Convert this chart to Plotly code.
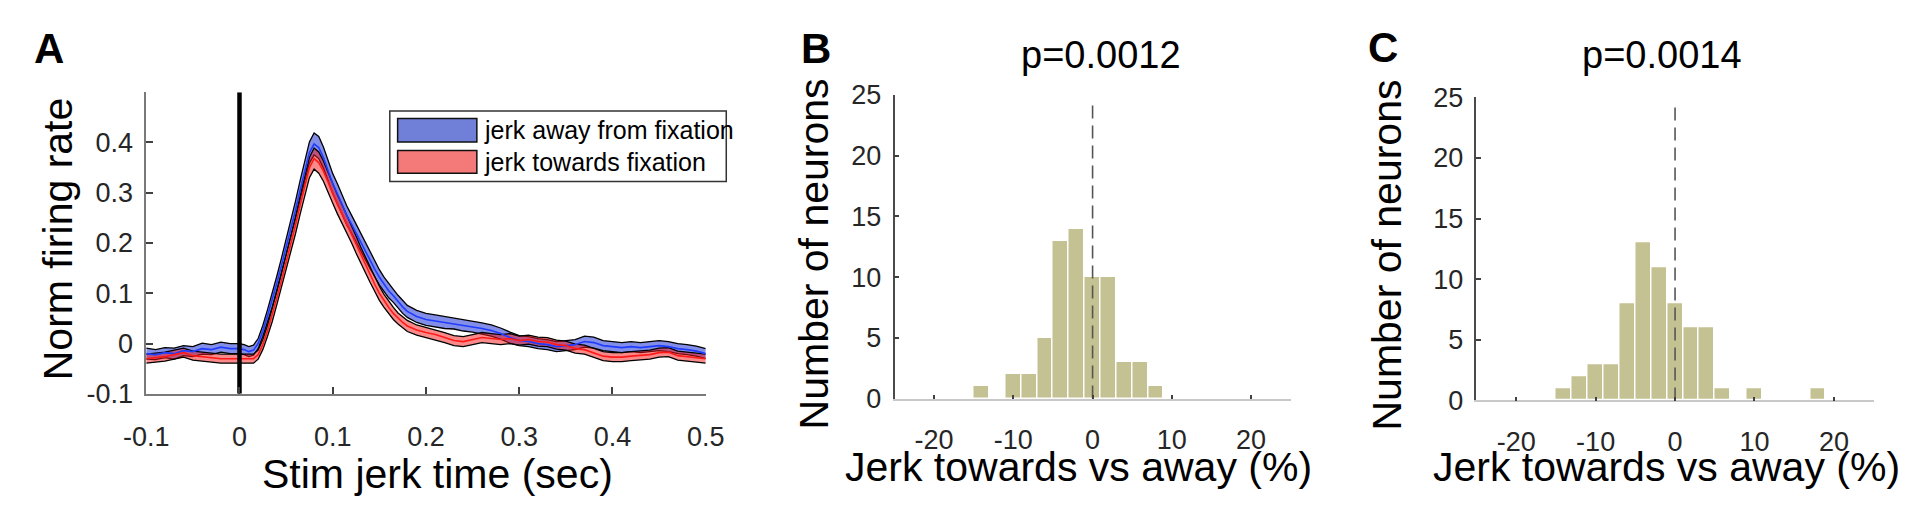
import plotly.graph_objects as go

# ---------------- data ----------------
time_s = [-0.10, -0.09, -0.08, -0.07, -0.06, -0.05, -0.04, -0.03, -0.02, -0.01, 0.00,
          0.005, 0.010, 0.015, 0.020, 0.025, 0.030, 0.035, 0.040, 0.045, 0.050, 0.055, 0.060,
          0.065, 0.070, 0.075, 0.080, 0.085, 0.090, 0.095, 0.100, 0.105, 0.110, 0.115, 0.120,
          0.125, 0.130, 0.135, 0.140, 0.145, 0.150, 0.155, 0.160, 0.165, 0.170, 0.175, 0.180,
          0.19, 0.20, 0.21, 0.22, 0.23, 0.24, 0.25, 0.26, 0.27, 0.28, 0.29, 0.30, 0.31, 0.32,
          0.33, 0.34, 0.35, 0.36, 0.37, 0.38, 0.39, 0.40, 0.41, 0.42, 0.43, 0.44, 0.45, 0.46,
          0.47, 0.48, 0.49, 0.50]

away_mean = [-0.020, -0.022, -0.018, -0.020, -0.014, -0.016, -0.010, -0.012, -0.007, -0.010, -0.010,
             -0.012, -0.016, -0.013, 0.000, 0.025, 0.055, 0.085, 0.120, 0.155, 0.190, 0.225, 0.265,
             0.305, 0.345, 0.380, 0.397, 0.390, 0.370, 0.345, 0.318, 0.298, 0.275, 0.255, 0.238,
             0.220, 0.200, 0.183, 0.165, 0.148, 0.132, 0.118, 0.105, 0.095, 0.083, 0.073, 0.064,
             0.054, 0.048, 0.045, 0.042, 0.040, 0.036, 0.034, 0.030, 0.026, 0.020, 0.012, 0.006,
             0.004, 0.000, -0.002, -0.006, -0.004, -0.002, 0.004, 0.002, -0.004, -0.006, -0.008,
             -0.006, -0.008, -0.006, -0.004, -0.006, -0.010, -0.012, -0.015, -0.020]

away_sem = [0.011, 0.010, 0.010, 0.011, 0.010, 0.010, 0.011, 0.010, 0.010, 0.010, 0.010,
            0.010, 0.010, 0.010, 0.010, 0.011, 0.012, 0.013, 0.014, 0.015, 0.016, 0.017, 0.018,
            0.019, 0.020, 0.021, 0.022, 0.022, 0.021, 0.021, 0.020, 0.020, 0.019, 0.019, 0.018,
            0.018, 0.017, 0.017, 0.016, 0.015, 0.015, 0.014, 0.014, 0.013, 0.013, 0.013, 0.012,
            0.012, 0.012, 0.012, 0.012, 0.011, 0.011, 0.011, 0.011, 0.011, 0.011, 0.011, 0.010,
            0.010, 0.010, 0.010, 0.010, 0.010, 0.010, 0.011, 0.011, 0.010, 0.010, 0.010, 0.010,
            0.010, 0.010, 0.010, 0.010, 0.010, 0.010, 0.010, 0.010]

towards_mean = [-0.030, -0.028, -0.026, -0.022, -0.018, -0.024, -0.026, -0.028, -0.030, -0.030, -0.030,
                -0.030, -0.031, -0.030, -0.022, -0.002, 0.025, 0.055, 0.090, 0.125, 0.160, 0.195, 0.235,
                0.275, 0.315, 0.350, 0.368, 0.360, 0.343, 0.320, 0.298, 0.277, 0.258, 0.238, 0.218,
                0.197, 0.176, 0.156, 0.137, 0.118, 0.100, 0.085, 0.072, 0.060, 0.050, 0.042, 0.035,
                0.027, 0.022, 0.018, 0.012, 0.006, 0.004, 0.008, 0.012, 0.010, 0.008, 0.010, 0.006,
                0.008, 0.004, 0.003, -0.002, -0.004, -0.010, -0.012, -0.018, -0.025, -0.027, -0.027,
                -0.025, -0.024, -0.022, -0.018, -0.017, -0.024, -0.026, -0.027, -0.030]

towards_sem = [0.009, 0.009, 0.009, 0.009, 0.009, 0.009, 0.009, 0.009, 0.009, 0.009, 0.009,
               0.009, 0.009, 0.009, 0.009, 0.010, 0.011, 0.012, 0.013, 0.014, 0.015, 0.016, 0.017,
               0.018, 0.019, 0.020, 0.021, 0.021, 0.020, 0.020, 0.019, 0.019, 0.018, 0.018, 0.017,
               0.017, 0.016, 0.016, 0.015, 0.014, 0.014, 0.013, 0.012, 0.012, 0.011, 0.011, 0.011,
               0.010, 0.010, 0.010, 0.010, 0.010, 0.010, 0.010, 0.010, 0.010, 0.010, 0.010, 0.009,
               0.009, 0.009, 0.009, 0.009, 0.009, 0.009, 0.009, 0.009, 0.009, 0.009, 0.009, 0.009,
               0.009, 0.009, 0.009, 0.009, 0.009, 0.009, 0.009, 0.009]

a_xticks = [-0.1, 0, 0.1, 0.2, 0.3, 0.4, 0.5]
a_xticklabels = ["-0.1", "0", "0.1", "0.2", "0.3", "0.4", "0.5"]
a_yticks = [-0.1, 0, 0.1, 0.2, 0.3, 0.4]
a_yticklabels = ["-0.1", "0", "0.1", "0.2", "0.3", "0.4"]

hist_xticks = [-20, -10, 0, 10, 20]
hist_xticklabels = ["-20", "-10", "0", "10", "20"]
hist_yticks = [0, 5, 10, 15, 20, 25]
hist_yticklabels = ["0", "5", "10", "15", "20", "25"]

b_bin_centers = [-14, -12, -10, -8, -6, -4, -2, 0, 2, 4, 6, 8]
b_counts = [1, 0, 2, 2, 5, 13, 14, 10, 10, 3, 3, 1]
c_bin_centers = [-14, -12, -10, -8, -6, -4, -2, 0, 2, 4, 6, 8, 10, 12, 14, 16, 18]
c_counts = [1, 2, 3, 3, 8, 13, 11, 8, 6, 6, 1, 0, 1, 0, 0, 0, 1]
bin_width = 2
b_pvalue = "p=0.0012"
c_pvalue = "p=0.0014"
legend_labels = ["jerk away from fixation", "jerk towards fixation"]

# ---------------- styling ----------------
W, H = 1920, 511
FONT = "Liberation Sans, Arial, Helvetica, sans-serif"
TICKC = "#262626"


def px(x):
    return x / W


def py(y):
    return 1 - y / H


fig = go.Figure()

# panel A bands
series = [
    (away_mean, away_sem, "rgba(30,50,215,0.55)", "#1f3cff"),
    (towards_mean, towards_sem, "rgba(245,20,20,0.5)", "#ff1a1a"),
]
for mean, sem, fillc, linec in series:
    upper = [m + s for m, s in zip(mean, sem)]
    lower = [m - s for m, s in zip(mean, sem)]
    fig.add_trace(go.Scatter(x=time_s, y=upper, mode="lines", line=dict(color="black", width=1.3),
                             xaxis="x", yaxis="y", showlegend=False, hoverinfo="skip"))
    fig.add_trace(go.Scatter(x=time_s, y=lower, mode="lines", line=dict(color="black", width=1.3),
                             fill="tonexty", fillcolor=fillc,
                             xaxis="x", yaxis="y", showlegend=False, hoverinfo="skip"))
for mean, sem, fillc, linec in series:
    fig.add_trace(go.Scatter(x=time_s, y=mean, mode="lines", line=dict(color=linec, width=1.6),
                             xaxis="x", yaxis="y", showlegend=False))

# stimulus onset line
fig.add_trace(go.Scatter(x=[0, 0], y=[-0.1, 0.5], mode="lines", line=dict(color="black", width=4.5),
                         xaxis="x", yaxis="y", showlegend=False, hoverinfo="skip"))

# histograms
BAR = "#c4c192"
fig.add_trace(go.Bar(x=b_bin_centers, y=b_counts, width=bin_width,
                     marker=dict(color=BAR, line=dict(color="white", width=1.5)),
                     xaxis="x2", yaxis="y2", showlegend=False))
fig.add_trace(go.Bar(x=c_bin_centers, y=c_counts, width=bin_width,
                     marker=dict(color=BAR, line=dict(color="white", width=1.5)),
                     xaxis="x3", yaxis="y3", showlegend=False))
for xa, ya in (("x2", "y2"), ("x3", "y3")):
    fig.add_trace(go.Scatter(x=[0, 0], y=[0, 24.5], mode="lines",
                             line=dict(color="#555555", width=1.6, dash="13px,7px"),
                             xaxis=xa, yaxis=ya, showlegend=False, hoverinfo="skip"))

tickfont = dict(family=FONT, size=27, color=TICKC)


def xax(domain, rng, tv, tt, linec, ticklen, standoff, anchor):
    return dict(domain=domain, range=rng, tickvals=tv, ticktext=tt, ticks="inside", ticklen=ticklen,
                tickwidth=1.5, tickcolor="#404040", showline=True, linecolor=linec, linewidth=1.5,
                showgrid=False, zeroline=False, tickfont=tickfont, ticklabelstandoff=standoff,
                anchor=anchor, fixedrange=True)


def yax(domain, rng, tv, tt, linec, ticklen, anchor):
    return dict(domain=domain, range=rng, tickvals=tv, ticktext=tt, ticks="inside", ticklen=ticklen,
                tickwidth=1.5, tickcolor="#404040", showline=True, linecolor=linec, linewidth=1.8,
                showgrid=False, zeroline=False, tickfont=tickfont, ticklabelstandoff=6, anchor=anchor,
                fixedrange=True)


fig.update_layout(
    width=W, height=H, margin=dict(l=0, r=0, t=0, b=0),
    paper_bgcolor="white", plot_bgcolor="rgba(0,0,0,0)", bargap=0,
    font=dict(family=FONT, color="black"),
    xaxis=xax([px(126), px(698)], [-0.1, 0.5], a_xticks, a_xticklabels, "#7a7a7a", 7, 18, "y"),
    yaxis=yax([py(402.5), py(82)], [-0.1, 0.5], a_yticks, a_yticklabels, "#7a7a7a", 7, "x"),
    xaxis2=xax([px(891), px(1296)], [-25, 25], hist_xticks, hist_xticklabels, "#c8c8c8", 4, 16, "y2"),
    yaxis2=yax([py(407.5), py(85)], [0, 25], hist_yticks, hist_yticklabels, "#4a4a4a", 5, "x2"),
    xaxis3=xax([px(1486), px(1892)], [-25, 25], hist_xticks, hist_xticklabels, "#c8c8c8", 4, 16, "y3"),
    yaxis3=yax([py(409.5), py(87.5)], [0, 25], hist_yticks, hist_yticklabels, "#4a4a4a", 5, "x3"),
)

LBL = 41
ann = []


def text(x, y, s, size, bold=False, angle=0, xanchor="center", yanchor="middle", color="black"):
    ann.append(dict(x=px(x), y=py(y), xref="paper", yref="paper", text=("<b>%s</b>" % s) if bold else s,
                    showarrow=False, textangle=angle, xanchor=xanchor, yanchor=yanchor,
                    font=dict(family=FONT, size=size, color=color)))


# panel letters
text(27, 36, "A", 42, bold=True)
text(811, 36, "B", 42, bold=True)
text(1390, 35, "C", 42, bold=True)
# titles
text(1102, 42, b_pvalue, 38)
text(1676, 42, c_pvalue, 38)
# axis titles
text(36, 238, "Norm firing rate", LBL, angle=-90)
text(424, 488, "Stim jerk time (sec)", LBL)
text(809, 254, "Number of neurons", LBL, angle=-90)
text(1079, 480, "Jerk towards vs away (%)", LBL)
text(1395, 255, "Number of neurons", LBL, angle=-90)
text(1680, 480, "Jerk towards vs away (%)", LBL)
# legend text
text(469, 122, legend_labels[0], 25, xanchor="left")
text(469, 156, legend_labels[1], 25, xanchor="left")

shapes = [
    dict(type="rect", xref="paper", yref="paper", x0=px(375), x1=px(719), y0=py(177), y1=py(102),
         line=dict(color="#333333", width=1.5), fillcolor="white", layer="above"),
    dict(type="rect", xref="paper", yref="paper", x0=px(383), x1=px(464), y0=py(135), y1=py(110),
         line=dict(color="#111111", width=1.5), fillcolor="#7080d8", layer="above"),
    dict(type="rect", xref="paper", yref="paper", x0=px(383), x1=px(464), y0=py(168), y1=py(144),
         line=dict(color="#111111", width=1.5), fillcolor="#f47a7a", layer="above"),
]
fig.update_layout(annotations=ann, shapes=shapes)

fig.write_html("out.html", include_plotlyjs=True, config={"displayModeBar": False},
               post_script="document.body.style.margin='0';document.body.style.overflow='hidden';")
